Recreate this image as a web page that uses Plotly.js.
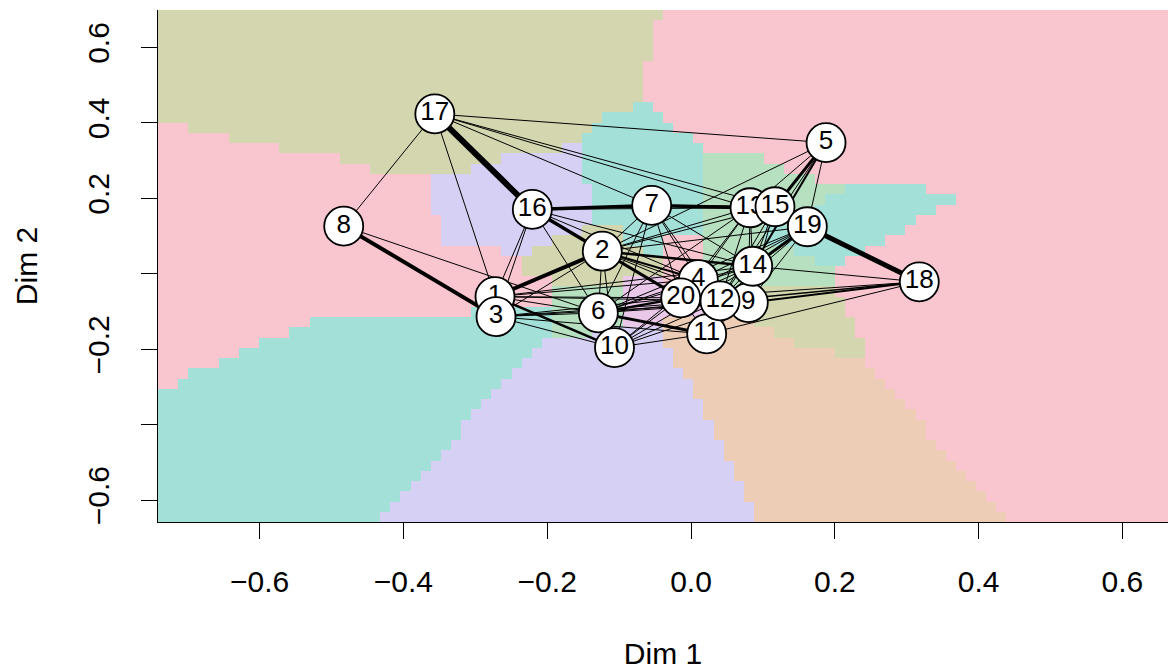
<!DOCTYPE html>
<html>
<head>
<meta charset="utf-8">
<script src="https://cdn.plot.ly/plotly-3.0.1.min.js"></script>
<style>html,body{margin:0;padding:0;background:#fff;}#chart{width:1168px;height:670px;}</style>
</head>
<body>
<div id="chart"></div>
<script>
// ---------- data ----------
const nodeLabel = ['1','2','3','4','5','6','7','8','9','10','11','12','13','14','15','16','17','18','19','20'];
const nodeX = [-0.2726,-0.1234,-0.2712,0.0102,0.1878,-0.1289,-0.0547,-0.4830,0.0797,-0.1064,0.0218,0.0403,0.0821,0.0858,0.1168,-0.2207,-0.3563,0.3175,0.1618,-0.0143];
const nodeY = [-0.0603,0.0600,-0.1134,-0.0151,0.3478,-0.1035,0.1813,0.1264,-0.0762,-0.1956,-0.1593,-0.0717,0.1752,0.0202,0.1779,0.1707,0.4240,-0.0212,0.1248,-0.0637];

const edgeFrom = [17,8,19,16,7,16,2,1,6,2,2,14,5,6,9,12,5,7,2,
  17,17,17,17,17,17,8,16,16,16,16,16,16,7,7,7,7,7,7,7,2,2,2,2,2,2,2,2,5,5,5,5,
  1,1,1,1,1,3,3,3,3,3,3,6,6,6,6,6,6,6,10,10,10,10,10,10,13,13,13,13,13,15,15,15,15,
  19,19,19,19,14,14,14,14,14,18,18,4,20,12,11,11,20];
const edgeTo = [16,3,18,7,13,2,1,10,11,14,20,19,15,20,18,18,14,15,4,
  8,1,5,13,15,7,6,1,3,6,13,14,4,2,6,10,4,20,12,14,13,15,19,9,12,6,3,10,2,13,19,12,
  6,20,4,12,14,6,10,20,12,11,9,10,4,12,9,14,13,19,20,4,12,9,11,14,14,12,9,4,20,14,12,9,19,
  4,12,9,20,18,9,12,4,20,20,11,12,12,9,12,9,11];
const edgeWeight = [6,4,5,3.5,3.5,3.5,4,2.5,3,2.5,3,3,3,2.5,2,1.5,2,1.5,2,
  1,1,1,1,1,1,1,1,1,1,1,1,1,1,1,1,1,1,1,1,1,1,1,1,1,1,1,1,1,1,1,1,
  1,1,1,1,1,1,1,1,1,1,1,1,1,1,1,1,1,1,1,1,1,1,1,1,1,1,1,1,1,1,1,1,1,
  1,1,1,1,1,1,1,1,1,1,1,1,1,1,1,1,1];

// background classification map, rows listed top to bottom;
// "C:x" = class C up to Dim 1 = x, last class runs to the right edge
const regionClasses = ['O','P','T','L','E','G','V'];
const regionColors = ['#D3D6AE','#F9C6D0','#A3E0D8','#D5D0F4','#EDCDB6','#B6E0C0','#E9C8EA'];
const bgRows = [
  "O:-0.038 P","O:-0.051 P","O:-0.051 P","O:-0.051 P","O:-0.058 P",
  "O:-0.065 P","O:-0.065 P","O:-0.065 P","O:-0.065 P","O:-0.086 T:-0.051 P",
  "O:-0.122 T:-0.032 P",
  "P:-0.697 O:-0.136 T:-0.018 P",
  "P:-0.641 O:-0.150 T:0.003 P",
  "P:-0.572 O:-0.178 L:-0.150 T:0.017 P",
  "P:-0.495 O:-0.263 L:-0.150 T:0.019 G:0.103 P",
  "P:-0.446 O:-0.305 L:-0.150 T:0.019 G:0.131 P",
  "P:-0.362 L:-0.150 T:0.019 G:0.172 P",
  "P:-0.362 L:-0.136 T:0.019 G:0.214 T:0.328 P",
  "P:-0.362 L:-0.136 T:0.019 G:0.189 T:0.370 P",
  "P:-0.362 L:-0.136 T:0.019 G:0.175 T:0.342 P",
  "P:-0.348 L:-0.136 T:0.019 G:0.142 T:0.314 P",
  "P:-0.348 L:-0.150 O:-0.095 T:0.022 G:0.096 T:0.300 P",
  "P:-0.348 L:-0.192 O:-0.092 T:-0.036 P:0.022 G:0.096 T:0.273 P",
  "P:-0.261 L:-0.220 O:-0.071 T:-0.039 P:0.022 G:0.145 T:0.242 P",
  "P:-0.234 O:-0.039 P:0.022 G:0.175 T:0.214 P",
  "P:-0.234 O:-0.039 P:0.022 G:0.203 P",
  "P:-0.192 O:-0.095 V:-0.039 P:0.013 G:0.203 P",
  "P:-0.192 G:-0.095 V:0.013 G:0.068 O:0.203 P",
  "P:-0.192 G:-0.095 V:0.019 O:0.214 P",
  "P:-0.307 T:-0.192 G:-0.095 V:0.013 O:0.214 P",
  "P:-0.537 T:-0.192 G:-0.095 V:-0.043 E:0.089 O:0.228 P",
  "P:-0.565 T:-0.193 G:-0.134 L:-0.036 E:0.117 O:0.228 P",
  "P:-0.599 T:-0.206 L:-0.036 E:0.145 O:0.238 P",
  "P:-0.627 T:-0.217 L:-0.026 E:0.196 O:0.242 P",
  "P:-0.662 T:-0.234 L:-0.018 E:0.249 P",
  "P:-0.693 T:-0.248 L:-0.008 E:0.256 P",
  "P:-0.713 T:-0.261 L:-0.001 E:0.270 P",
  "T:-0.273 L:0.008 E:0.287 P",
  "T:-0.285 L:0.017 E:0.298 P",
  "T:-0.300 L:0.024 E:0.307 P",
  "T:-0.313 L:0.031 E:0.321 P",
  "T:-0.325 L:0.038 E:0.332 P",
  "T:-0.339 L:0.043 E:0.346 P",
  "T:-0.352 L:0.050 E:0.357 P",
  "T:-0.364 L:0.056 E:0.371 P",
  "T:-0.377 L:0.061 E:0.382 P",
  "T:-0.391 L:0.068 E:0.395 P",
  "T:-0.403 L:0.074 E:0.412 P",
  "T:-0.416 L:0.082 E:0.426 P",
  "T:-0.428 L:0.089 E:0.439 P"
];

const xRange = [-0.7413, 0.6634];
const yRange = [-0.6578, 0.6994];
const tickVals = [-0.6,-0.4,-0.2,0,0.2,0.4,0.6];
const xTickText = ['\u22120.6','\u22120.4','\u22120.2','0.0','0.2','0.4','0.6'];
const yTickText = ['\u22120.6','','\u22120.2','','0.2','0.4','0.6'];

// ---------- build ----------
const FONT = '"Liberation Sans", Arial, Helvetica, sans-serif';
const traces = [];

// background heatmap
const nCols = 100;
const nRows = bgRows.length;
const dxc = (xRange[1]-xRange[0])/nCols;
const dyr = (yRange[1]-yRange[0])/nRows;
const hx = Array.from({length:nCols},(_,i)=>xRange[0]+(i+0.5)*dxc);
const hy = Array.from({length:nRows},(_,k)=>yRange[0]+(k+0.5)*dyr);
const parsed = bgRows.map(r => r.split(' ').map(s => {
  const p = s.split(':');
  return {c: regionClasses.indexOf(p[0]), end: p.length>1 ? parseFloat(p[1]) : Infinity};
}));
const hz = hy.map((_,k) => {
  const segs = parsed[nRows-1-k];
  return hx.map(x => { for (const s of segs) { if (x < s.end) return s.c; } return segs[segs.length-1].c; });
});
const nC = regionClasses.length;
traces.push({
  type:'heatmap', x:hx, y:hy, z:hz, zmin:0, zmax:nC-1,
  colorscale: regionColors.map((c,i)=>[i/(nC-1), c]),
  showscale:false, hoverinfo:'skip', zsmooth:false
});

// edges grouped by weight
const widths = [...new Set(edgeWeight)];
widths.forEach(w => {
  const ex=[], ey=[];
  edgeFrom.forEach((f,i) => {
    if (edgeWeight[i] !== w) return;
    const a=f-1, b=edgeTo[i]-1;
    ex.push(nodeX[a], nodeX[b], null);
    ey.push(nodeY[a], nodeY[b], null);
  });
  traces.push({type:'scatter', mode:'lines', x:ex, y:ey,
    line:{color:'#000', width:w}, hoverinfo:'skip', showlegend:false});
});

// nodes, one trace per node so overlaps follow vertex order
nodeLabel.forEach((lab,i) => {
  traces.push({type:'scatter', mode:'markers+text', x:[nodeX[i]], y:[nodeY[i]],
    text:[lab], textposition:'middle center',
    textfont:{family:FONT, size:26, color:'#000'},
    marker:{size:39, color:'#fff', line:{color:'#000', width:1.8}},
    hoverinfo:'skip', showlegend:false, cliponaxis:false});
});

const layout = {
  width:1168, height:670,
  margin:{l:158, r:0, t:10, b:148},
  paper_bgcolor:'#fff', plot_bgcolor:'#fff',
  showlegend:false,
  font:{family:FONT, color:'#000'},
  xaxis:{range:xRange, showgrid:false, zeroline:false, showline:true, linecolor:'#000', linewidth:1,
    ticks:'outside', ticklen:16, tickcolor:'#000', tickwidth:1,
    tickvals:tickVals, ticktext:xTickText, tickfont:{size:30, family:FONT, color:'#000'},
    ticklabelstandoff:17,
    title:{text:'Dim 1', font:{size:30, family:FONT, color:'#000'}, standoff:48}},
  yaxis:{range:yRange, showgrid:false, zeroline:false, showline:true, linecolor:'#000', linewidth:1,
    ticks:'outside', ticklen:16, tickcolor:'#000', tickwidth:1,
    tickvals:tickVals, ticktext:yTickText, tickangle:-90, tickfont:{size:30, family:FONT, color:'#000'},
    ticklabelstandoff:20,
    title:{text:'Dim 2', font:{size:30, family:FONT, color:'#000'}, standoff:35}}
};

Plotly.newPlot('chart', traces, layout, {staticPlot:true, displayModeBar:false});
</script>
</body>
</html>
